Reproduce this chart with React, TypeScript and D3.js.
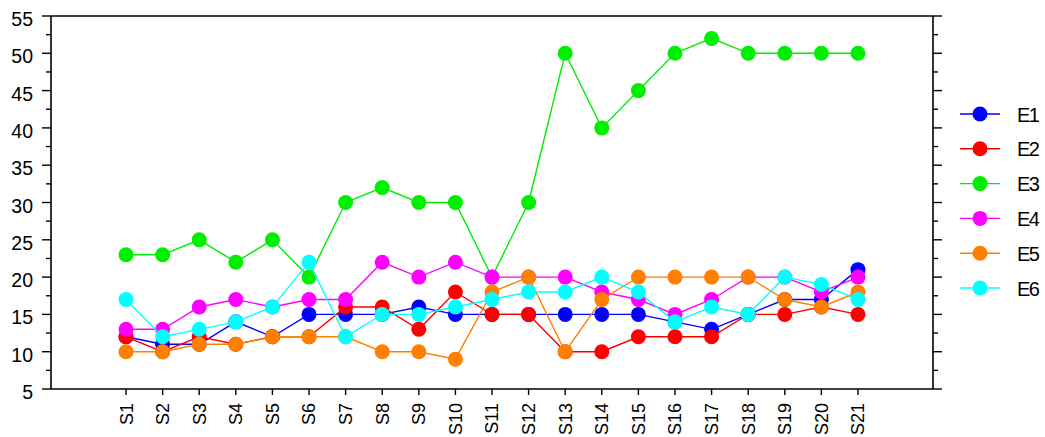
import React from 'react';
import * as d3 from 'd3';

// categories along the x axis
const categories = Array.from({ length: 21 }, (_, i) => `S${i + 1}`);

// series names and colours
const seriesNames = ['E1', 'E2', 'E3', 'E4', 'E5', 'E6'];
const seriesColors = ['#0000ff', '#ff0000', '#00ee00', '#ff00ff', '#ff8000', '#00ffff'];

// values
const e1 = [12, 11, 11, 14, 12, 15, 15, 15, 16, 15, 15, 15, 15, 15, 15, 14, 13, 15, 17, 17, 21];
const e2 = [12, 10, 12, 11, 12, 12, 16, 16, 13, 18, 15, 15, 10, 10, 12, 12, 12, 15, 15, 16, 15];
const e3 = [23, 23, 25, 22, 25, 20, 30, 32, 30, 30, 20, 30, 50, 40, 45, 50, 52, 50, 50, 50, 50];
const e4 = [13, 13, 16, 17, 16, 17, 17, 22, 20, 22, 20, 20, 20, 18, 17, 15, 17, 20, 20, 18, 20];
const e5 = [10, 10, 11, 11, 12, 12, 12, 10, 10, 9, 18, 20, 10, 17, 20, 20, 20, 20, 17, 16, 18];
const e6 = [17, 12, 13, 14, 16, 22, 12, 15, 15, 16, 17, 18, 18, 20, 18, 14, 16, 15, 20, 19, 17];
const seriesValues = [e1, e2, e3, e4, e5, e6];

const yMajorTicks = [5, 10, 15, 20, 25, 30, 35, 40, 45, 50, 55];

const W = 1045;
const H = 437;
const left = 51;
const right = 933;
const top = 16;
const bottom = 389;
const font = 'Liberation Sans, Arial, sans-serif';

export default function App() {
  // x: index of category, padded by two steps on each side
  const x = d3.scaleLinear().domain([-2.05, 22.05]).range([left, right]);
  const y = d3.scaleLinear().domain([5, 55]).range([bottom, top]);
  const minorTicks = d3.range(7.5, 55, 5);

  const line = d3
    .line<number>()
    .x((_, i) => x(i))
    .y((d) => y(d));

  return (
    <svg width={W} height={H} style={{ position: 'absolute', left: 0, top: 0, background: '#fff' }}>
      <rect width={W} height={H} fill="#fff" />

      {/* frame */}
      <g stroke="#000" strokeWidth={1.6} fill="none">
        <line x1={left} x2={right} y1={top} y2={top} />
        <line x1={left} x2={right} y1={bottom} y2={bottom} />
        <line x1={left} x2={left} y1={top} y2={bottom} />
        <line x1={right} x2={right} y1={top} y2={bottom} />
      </g>

      {/* y ticks, both sides */}
      <g stroke="#000" strokeWidth={1.4}>
        {yMajorTicks.map((v) => (
          <g key={v}>
            <line x1={left - 9} x2={left} y1={y(v)} y2={y(v)} />
            <line x1={right} x2={right + 9} y1={y(v)} y2={y(v)} />
          </g>
        ))}
        {minorTicks.map((v) => (
          <g key={v}>
            <line x1={left - 5} x2={left} y1={y(v)} y2={y(v)} />
            <line x1={right} x2={right + 5} y1={y(v)} y2={y(v)} />
          </g>
        ))}
      </g>
      {yMajorTicks.map((v) => (
        <text
          key={v}
          x={33}
          y={y(v) + 10}
          textAnchor="end"
          fontFamily={font}
          fontSize={19.5}
          fill="#000"
        >
          {v}
        </text>
      ))}

      {/* x ticks and rotated labels */}
      {categories.map((c, i) => (
        <g key={c} transform={`translate(${x(i)},0)`}>
          <line y1={bottom} y2={bottom + 6} stroke="#000" strokeWidth={1.4} />
          <text
            transform={`translate(0,${bottom + 14}) rotate(-90)`}
            dy="0.36em"
            textAnchor="end"
            fontFamily={font}
            fontSize={18}
            fill="#000"
          >
            {c}
          </text>
        </g>
      ))}

      {/* series */}
      {seriesValues.map((vals, s) => (
        <g key={seriesNames[s]}>
          <path d={line(vals) || ''} fill="none" stroke={seriesColors[s]} strokeWidth={1.4} />
          {vals.map((v, i) => (
            <circle key={i} cx={x(i)} cy={y(v)} r={7.5} fill={seriesColors[s]} />
          ))}
        </g>
      ))}

      {/* legend */}
      {seriesNames.map((name, s) => {
        const ly = 114 + s * 34.8;
        return (
          <g key={name}>
            <line x1={960} x2={1000} y1={ly} y2={ly} stroke={seriesColors[s]} strokeWidth={1.4} />
            <circle cx={980} cy={ly} r={7.5} fill={seriesColors[s]} />
            <text
              x={1017}
              y={ly + 7.5}
              fontFamily={font}
              fontSize={20}
              letterSpacing={-1.5}
              fill="#000"
            >
              {name}
            </text>
          </g>
        );
      })}
    </svg>
  );
}
